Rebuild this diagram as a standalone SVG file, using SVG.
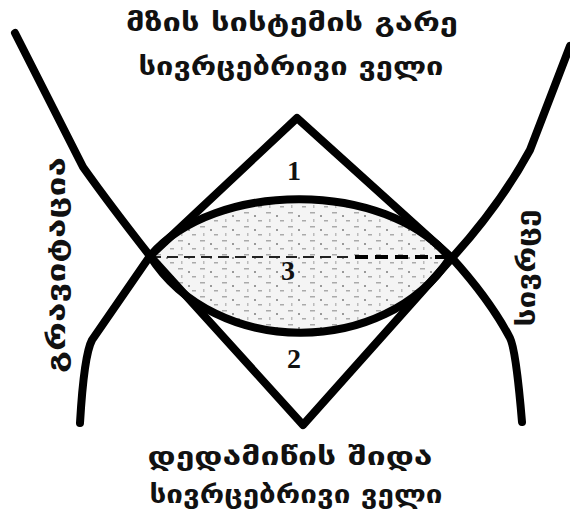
<svg xmlns="http://www.w3.org/2000/svg" width="570" height="516" viewBox="0 0 570 516">
<style>
.ln{fill:none;stroke:#000;stroke-width:8;stroke-linejoin:round;stroke-linecap:round}
.geo{font-family:"DejaVu Sans","Noto Sans",sans-serif;font-weight:bold;font-size:25px;fill:#111;text-anchor:middle}
.num{font-family:"Liberation Serif","DejaVu Serif",serif;font-weight:bold;font-size:28px;fill:#111;text-anchor:middle}
</style>
<defs>
<pattern id="stip" width="22" height="14" patternUnits="userSpaceOnUse">
<rect width="22" height="14" fill="#f4f4f4"/>
<rect x="2" y="2" width="5" height="1.5" fill="#aaa"/>
<rect x="12" y="5" width="2" height="2" fill="#999"/>
<rect x="16" y="10" width="4" height="1.5" fill="#aaa"/>
<rect x="5" y="9" width="1.5" height="3" fill="#bbb"/>
</pattern>
</defs>
<rect width="570" height="516" fill="#fff"/>
<g id="lens">
<path d="M150,256 C215,180 385,180 450,258 C385,358 215,358 150,256 Z" fill="url(#stip)" stroke="none"/>
<line x1="150" y1="257" x2="352" y2="257" stroke="#222" stroke-width="1.8" stroke-dasharray="11 6"/>
<line x1="355" y1="257" x2="448" y2="257" stroke="#000" stroke-width="4" stroke-dasharray="13 7"/>
<path class="ln" d="M150,256 C215,180 385,180 450,258"/>
<path class="ln" d="M150,256 C215,358 385,358 450,258"/>
</g>
<g id="diamond">
<path class="ln" d="M297,118 L150,256 L303,425 L452,258 Z" stroke-width="9" stroke-linejoin="miter"/>
</g>
<g id="curve-left">
<path class="ln" d="M15,33 L83,167 Q110,205 150,256 L92,340 Q84,355 80,423"/>
</g>
<g id="curve-right">
<path class="ln" d="M570,46 L530,150 Q500,205 452,258 Q490,300 510,338 Q516,350 522,422"/>
</g>
<g id="labels">
<text class="geo" x="292" y="31" textLength="332" lengthAdjust="spacingAndGlyphs">მზის სისტემის გარე</text>
<text class="geo" x="291" y="75" textLength="305" lengthAdjust="spacingAndGlyphs">სივრცებრივი ველი</text>
<text class="geo" x="290" y="465" textLength="285" lengthAdjust="spacingAndGlyphs">დედამიწის შიდა</text>
<text class="geo" x="296" y="503" textLength="293" lengthAdjust="spacingAndGlyphs">სივრცებრივი ველი</text>
<text class="geo" transform="translate(65,265) rotate(-90)" textLength="216" lengthAdjust="spacingAndGlyphs">გრავიტაცია</text>
<text class="geo" transform="translate(535,268) rotate(-90)" textLength="117" lengthAdjust="spacingAndGlyphs">სივრცე</text>
<text class="num" x="294" y="180">1</text>
<text class="num" x="288" y="280">3</text>
<text class="num" x="294" y="368">2</text>
</g>
</svg>
